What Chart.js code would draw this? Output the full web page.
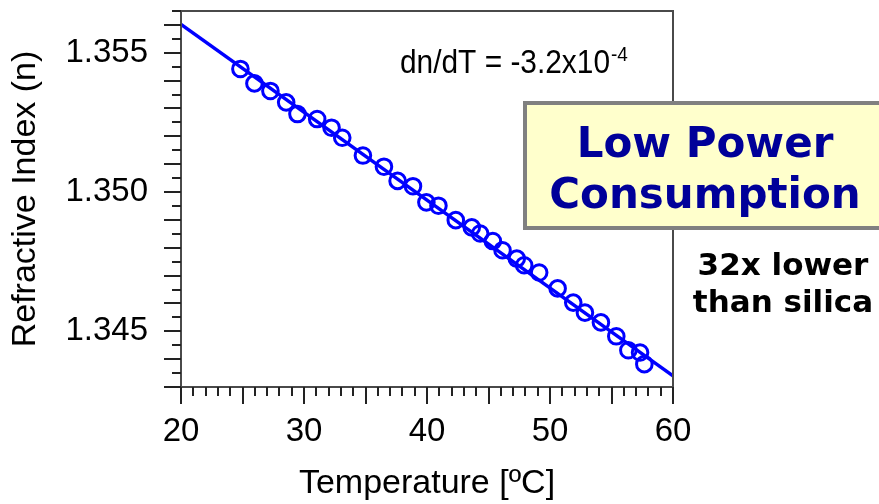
<!DOCTYPE html>
<html>
<head>
<meta charset="utf-8">
<script src="https://cdn.jsdelivr.net/npm/chart.js@4.4.0/dist/chart.umd.min.js"></script>
<style>
  html, body { margin: 0; padding: 0; background: #fff; }
</style>
</head>
<body>
<canvas id="c" width="879" height="504"></canvas>
<script>
// measured points (temperature in degC, refractive index)
const temps = [24.83, 25.97, 27.27, 28.55, 29.47, 31.07, 32.24, 33.11, 34.79, 36.5,
               37.61, 38.86, 39.95, 40.93, 42.34, 43.64, 44.32, 45.35, 46.14, 47.3,
               47.9, 49.12, 50.62, 51.89, 52.84, 54.14, 55.39, 56.37, 57.32, 57.67];
const indices = [1.35442, 1.35390, 1.35363, 1.35322, 1.35280, 1.35262, 1.35231, 1.35195, 1.35131, 1.35091,
                 1.35040, 1.35021, 1.34963, 1.34951, 1.34899, 1.34873, 1.34851, 1.34824, 1.34791, 1.34761,
                 1.34737, 1.34711, 1.34654, 1.34603, 1.34567, 1.34532, 1.34482, 1.34432, 1.34424, 1.34382];

// linear fit, end points
const fitTemps = [20, 60];
const fitIndices = [1.35602, 1.34340];

// axes
const xMin = 20, xMax = 60;
const yMin = 1.343, yMax = 1.3565;
const xTickLabels = [20, 30, 40, 50, 60];
const yTickLabels = [1.345, 1.350, 1.355];

const slopeLabel = 'dn/dT = -3.2x10';
const slopeExp = '-4';
const boxLines = ['Low Power', 'Consumption'];
const noteLines = ['32x lower', 'than silica'];

const BLUE = '#0000ff';
const SANS = '"Liberation Sans", Arial, sans-serif';
const VERD = '"DejaVu Sans", Verdana, sans-serif';

const frameAndNotes = {
  id: 'frameAndNotes',
  afterDraw(chart) {
    const { ctx, chartArea: a, scales: { x, y } } = chart;
    ctx.save();

    // plot frame
    ctx.strokeStyle = '#4a4a4a';
    ctx.lineWidth = 2;
    ctx.strokeRect(a.left, a.top, a.right - a.left, a.bottom - a.top);

    // tick marks: x every 1, long every 5; y every 0.0005, long every 0.001
    ctx.strokeStyle = '#222';
    ctx.lineWidth = 2;
    ctx.beginPath();
    for (let i = 0; i <= xMax - xMin; i++) {
      const px = Math.round(x.getPixelForValue(xMin + i));
      const len = i % 5 === 0 ? 17 : 9;
      ctx.moveTo(px, a.bottom);
      ctx.lineTo(px, a.bottom + len);
    }
    const ySteps = Math.round((yMax - yMin) / 0.0005);
    for (let j = 0; j <= ySteps; j++) {
      const py = Math.round(y.getPixelForValue(yMin + j * 0.0005));
      const len = j % 2 === 0 ? 17 : 9;
      ctx.moveTo(a.left, py);
      ctx.lineTo(a.left - len, py);
    }
    ctx.stroke();

    // slope annotation (condensed)
    ctx.fillStyle = '#000';
    ctx.textBaseline = 'alphabetic';
    ctx.textAlign = 'left';
    ctx.font = '33px ' + SANS;
    const sx = 210 / ctx.measureText(slopeLabel).width;
    ctx.save();
    ctx.translate(400, 73);
    ctx.scale(sx, 1);
    ctx.fillText(slopeLabel, 0, 0);
    ctx.restore();
    ctx.font = '21px ' + SANS;
    ctx.save();
    ctx.translate(611, 61);
    ctx.scale(sx, 1);
    ctx.fillText(slopeExp, 0, 0);
    ctx.restore();

    // yellow box
    ctx.fillStyle = '#ffffcc';
    ctx.fillRect(525, 103, 362, 125);
    ctx.strokeStyle = '#808080';
    ctx.lineWidth = 4;
    ctx.strokeRect(525, 103, 362, 125);
    ctx.fillStyle = '#000099';
    ctx.textAlign = 'center';
    ctx.font = 'bold 42px ' + VERD;
    ctx.fillText(boxLines[0], 705, 157);
    ctx.fillText(boxLines[1], 705, 208);

    // side note
    ctx.fillStyle = '#000';
    ctx.font = 'bold 31px ' + VERD;
    ctx.fillText(noteLines[0], 783, 275);
    ctx.fillText(noteLines[1], 783, 312);

    ctx.restore();
  }
};

new Chart(document.getElementById('c'), {
  type: 'scatter',
  data: {
    datasets: [
      {
        label: 'fit',
        data: fitTemps.map((t, i) => ({ x: t, y: fitIndices[i] })),
        showLine: true,
        borderColor: BLUE,
        borderWidth: 3.5,
        pointRadius: 0,
        order: 2
      },
      {
        label: 'measured',
        data: temps.map((t, i) => ({ x: t, y: indices[i] })),
        borderColor: BLUE,
        backgroundColor: 'rgba(0,0,0,0)',
        borderWidth: 3,
        pointRadius: 7.8,
        order: 1
      }
    ]
  },
  options: {
    responsive: false,
    animation: false,
    layout: { padding: { top: 11, right: 206, left: 0, bottom: 0 } },
    plugins: {
      legend: { display: false },
      tooltip: { enabled: false }
    },
    scales: {
      x: {
        type: 'linear',
        min: xMin,
        max: xMax,
        grid: { display: false, drawTicks: false },
        border: { display: false },
        ticks: {
          stepSize: 10,
          padding: 25,
          color: '#000',
          font: { family: SANS, size: 33 },
          callback: v => xTickLabels.includes(v) ? String(v) : ''
        },
        title: {
          display: true,
          text: 'Temperature [ºC]',
          color: '#000',
          font: { family: SANS, size: 34 },
          padding: { top: 0, bottom: 0 }
        },
        afterFit(scale) {
          scale.height = 117;
          scale.paddingLeft = 0;
          scale.paddingRight = 0;
        }
      },
      y: {
        min: yMin,
        max: yMax,
        grid: { display: false, drawTicks: false },
        border: { display: false },
        ticks: {
          stepSize: 0.005,
          includeBounds: false,
          padding: 33,
          color: '#000',
          font: { family: SANS, size: 33 },
          callback: v => yTickLabels.some(t => Math.abs(t - v) < 1e-7) ? v.toFixed(3) : ''
        },
        title: {
          display: true,
          text: 'Refractive Index (n)',
          color: '#000',
          font: { family: SANS, size: 34 },
          padding: { top: 5, bottom: 0 }
        },
        afterFit(scale) {
          scale.width = 181;
          scale.paddingTop = 0;
          scale.paddingBottom = 0;
        }
      }
    }
  },
  plugins: [frameAndNotes]
});
</script>
</body>
</html>
